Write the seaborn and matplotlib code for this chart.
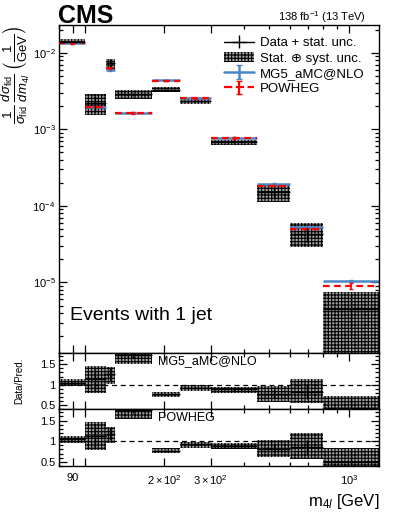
import numpy as np
import matplotlib
matplotlib.use('Agg')
import matplotlib.pyplot as plt
from matplotlib.patches import Patch
from matplotlib.ticker import FixedLocator, FixedFormatter, NullFormatter, LogLocator, MultipleLocator
import seaborn as sns

# m4l bin edges [GeV]
edges = np.array([80, 100, 120, 130, 180, 230, 300, 450, 600, 800, 1300])

# measured 1/sigma dsigma/dm4l [1/GeV] with stat. unc.
data = np.array([1.40e-2, 2.20e-3, 7.4e-3, 2.85e-3, 3.30e-3, 2.35e-3, 6.9e-4, 1.50e-4, 4.3e-5, 4.5e-6])
data_stat = np.array([3e-4, 5.0e-4, 9e-4, 1.0e-4, 8e-5, 7e-5, 3e-5, 2.0e-5, 9e-6, 2.5e-6])

# stat + syst band
tot_lo = np.array([1.28e-2, 1.56e-3, 6.0e-3, 2.50e-3, 3.05e-3, 2.15e-3, 6.2e-4, 1.12e-4, 2.9e-5, 5e-7])
tot_hi = np.array([1.51e-2, 2.87e-3, 8.4e-3, 3.25e-3, 3.60e-3, 2.50e-3, 7.35e-4, 1.88e-4, 6.0e-5, 7.5e-6])

# predictions
mg5 = np.array([1.33e-2, 1.95e-3, 5.9e-3, 1.65e-3, 4.35e-3, 2.55e-3, 7.8e-4, 1.93e-4, 5.3e-5, 1.05e-5])
mg5_err = np.array([2e-4, 4e-5, 2e-4, 3e-5, 8e-5, 4e-5, 1.5e-5, 4e-6, 1.2e-6, 4e-7])
powheg = np.array([1.33e-2, 1.97e-3, 6.3e-3, 1.63e-3, 4.30e-3, 2.55e-3, 7.7e-4, 1.84e-4, 5.05e-5, 9.0e-6])
powheg_err = np.array([2e-4, 4e-5, 2e-4, 3e-5, 8e-5, 4e-5, 1.5e-5, 4e-6, 1.2e-6, 8e-7])

blue = '#4a86c5'
red = '#ff0000'
band_face = '#a0a0a0'
band_hatch = '+++++'

sns.set_theme(style='ticks')
plt.rcParams['font.family'] = ['Liberation Sans', 'DejaVu Sans']
plt.rcParams['mathtext.fontset'] = 'custom'
plt.rcParams['mathtext.rm'] = 'Liberation Sans'
plt.rcParams['mathtext.it'] = 'Liberation Sans:italic'
plt.rcParams['mathtext.bf'] = 'Liberation Sans:bold'
plt.rcParams['hatch.linewidth'] = 0.8
plt.rcParams['hatch.color'] = 'black'
for k in ['text.color', 'axes.labelcolor', 'xtick.color', 'ytick.color', 'axes.edgecolor']:
    plt.rcParams[k] = 'black'

lo = edges[:-1]
hi = edges[1:]
width = np.diff(edges)
centers = np.sqrt(lo * hi)
xlo = centers - lo
xhi = hi - centers

W, H = 399, 518
fig = plt.figure(figsize=(W / 100, H / 100), dpi=100)
ax = fig.add_axes([59 / W, 1 - 353 / H, 320 / W, 328 / H])
rax1 = fig.add_axes([59 / W, 1 - 409 / H, 320 / W, 56 / H])
rax2 = fig.add_axes([59 / W, 1 - 466 / H, 320 / W, 57 / H])

# main panel
ax.bar(lo, tot_hi - tot_lo, width=width, bottom=tot_lo, align='edge',
       facecolor=band_face, edgecolor='black', hatch=band_hatch, linewidth=0, zorder=1)
ax.hlines(mg5, lo, hi, color=blue, lw=1.8, zorder=2)
ax.errorbar(centers, mg5, yerr=mg5_err, fmt='none', ecolor=blue, elinewidth=1, capsize=1.5, zorder=2)
ax.hlines(powheg, lo, hi, color=red, lw=1.6, linestyles=(0, (3, 2)), zorder=3)
ax.errorbar(centers, powheg, yerr=powheg_err, fmt='none', ecolor=red, elinewidth=1.2, capsize=1.5, zorder=3)
ax.errorbar(centers, data, xerr=[xlo, xhi], yerr=data_stat, fmt='none', ecolor='black', elinewidth=1, zorder=4)

ax.set_xscale('log')
ax.set_yscale('log')
ax.set_xlim(edges[0], edges[-1])
ax.set_ylim(1.2e-6, 2.3e-2)

# legend handles
h_data = ax.errorbar([1e5], [1], xerr=[1], yerr=[0.1], fmt='-', color='black', lw=1)
h_band = Patch(facecolor=band_face, edgecolor='black', hatch=band_hatch, linewidth=0)
h_mg5 = ax.errorbar([1e5], [1], yerr=[0.1], fmt='-', color=blue, lw=1.8, capsize=2)
h_pow = ax.errorbar([1e5], [1], yerr=[0.1], fmt='--', color=red, lw=1.6, capsize=2)
ax.legend([h_data, h_band, h_mg5, h_pow],
          ['Data + stat. unc.', 'Stat. \u2295 syst. unc.', 'MG5_aMC@NLO', 'POWHEG'],
          loc='upper left', bbox_to_anchor=(0.515, 0.963), frameon=False,
          fontsize=9.5, handlelength=2.3, handletextpad=0.45, labelspacing=0.22,
          borderpad=0, borderaxespad=0)

ax.text(0.035, 0.115, 'Events with 1 jet', transform=ax.transAxes, fontsize=14, va='center')

ax.set_ylabel(r'$\frac{1}{\sigma_{\mathrm{fid}}}\,\frac{d\sigma_{\mathrm{fid}}}{dm_{4l}}\,\left(\frac{1}{\mathrm{GeV}}\right)$',
              fontsize=13.5, loc='top')
ax.yaxis.set_label_coords(-0.085, 1.0)

# ratio panels
for rax, pred, name in [(rax1, mg5, 'MG5_aMC@NLO'), (rax2, powheg, 'POWHEG')]:
    r_lo = tot_lo / pred
    r_hi = tot_hi / pred
    rax.bar(lo, r_hi - r_lo, width=width, bottom=r_lo, align='edge',
            facecolor=band_face, edgecolor='black', hatch=band_hatch, linewidth=0, zorder=1)
    rax.errorbar(centers, data / pred, xerr=[xlo, xhi], yerr=data_stat / pred,
                 fmt='none', ecolor='black', elinewidth=1, zorder=3)
    rax.axhline(1.0, color='black', lw=0.9, ls=(0, (4, 3)), zorder=2)
    rax.set_xscale('log')
    rax.set_xlim(edges[0], edges[-1])
    rax.set_ylim(0.4, 1.78)
    rax.yaxis.set_major_locator(FixedLocator([0.5, 1.0, 1.5]))
    rax.yaxis.set_major_formatter(FixedFormatter(['0.5', '1', '1.5']))
    rax.yaxis.set_minor_locator(MultipleLocator(0.1))
    rax.text(0.31, 0.85, name, transform=rax.transAxes, fontsize=9, va='center')

rax1.set_ylabel('Data/Pred.', fontsize=7)
rax1.yaxis.set_label_coords(-0.11, 0.5)

# ticks, ROOT style
xmajor = [90, 100, 200, 300, 1000]
xlabels = ['90', '', r'$2\times10^{2}$', r'$3\times10^{2}$', r'$10^{3}$']
xminor = [80, 400, 500, 600, 700, 800, 900]
for a in (ax, rax1, rax2):
    a.xaxis.set_major_locator(FixedLocator(xmajor))
    a.xaxis.set_minor_locator(FixedLocator(xminor))
    a.xaxis.set_minor_formatter(NullFormatter())
    a.tick_params(which='both', direction='in', top=True, right=True, labelsize=8, width=0.9, pad=2.5)
    a.tick_params(which='major', length=6)
    a.tick_params(which='minor', length=3)
    for s in a.spines.values():
        s.set_linewidth(1.0)
    a.set_xticklabels([])
rax2.xaxis.set_major_formatter(FixedFormatter(xlabels))
rax2.tick_params(axis='x', pad=5)
ax.yaxis.set_minor_locator(LogLocator(base=10, subs=np.arange(2, 10)))
ax.yaxis.set_minor_formatter(NullFormatter())

rax2.set_xlabel(r'm$_{4l}$ [GeV]', fontsize=12, loc='right')

fig.text(58 / W, 1 - 23 / H, 'CMS', fontsize=18, fontweight='bold', ha='left', va='baseline')
fig.text(366 / W, 1 - 21 / H, r'138 fb$^{-1}$ (13 TeV)', fontsize=8, ha='right', va='baseline')

fig.savefig('out.png', dpi=100)
